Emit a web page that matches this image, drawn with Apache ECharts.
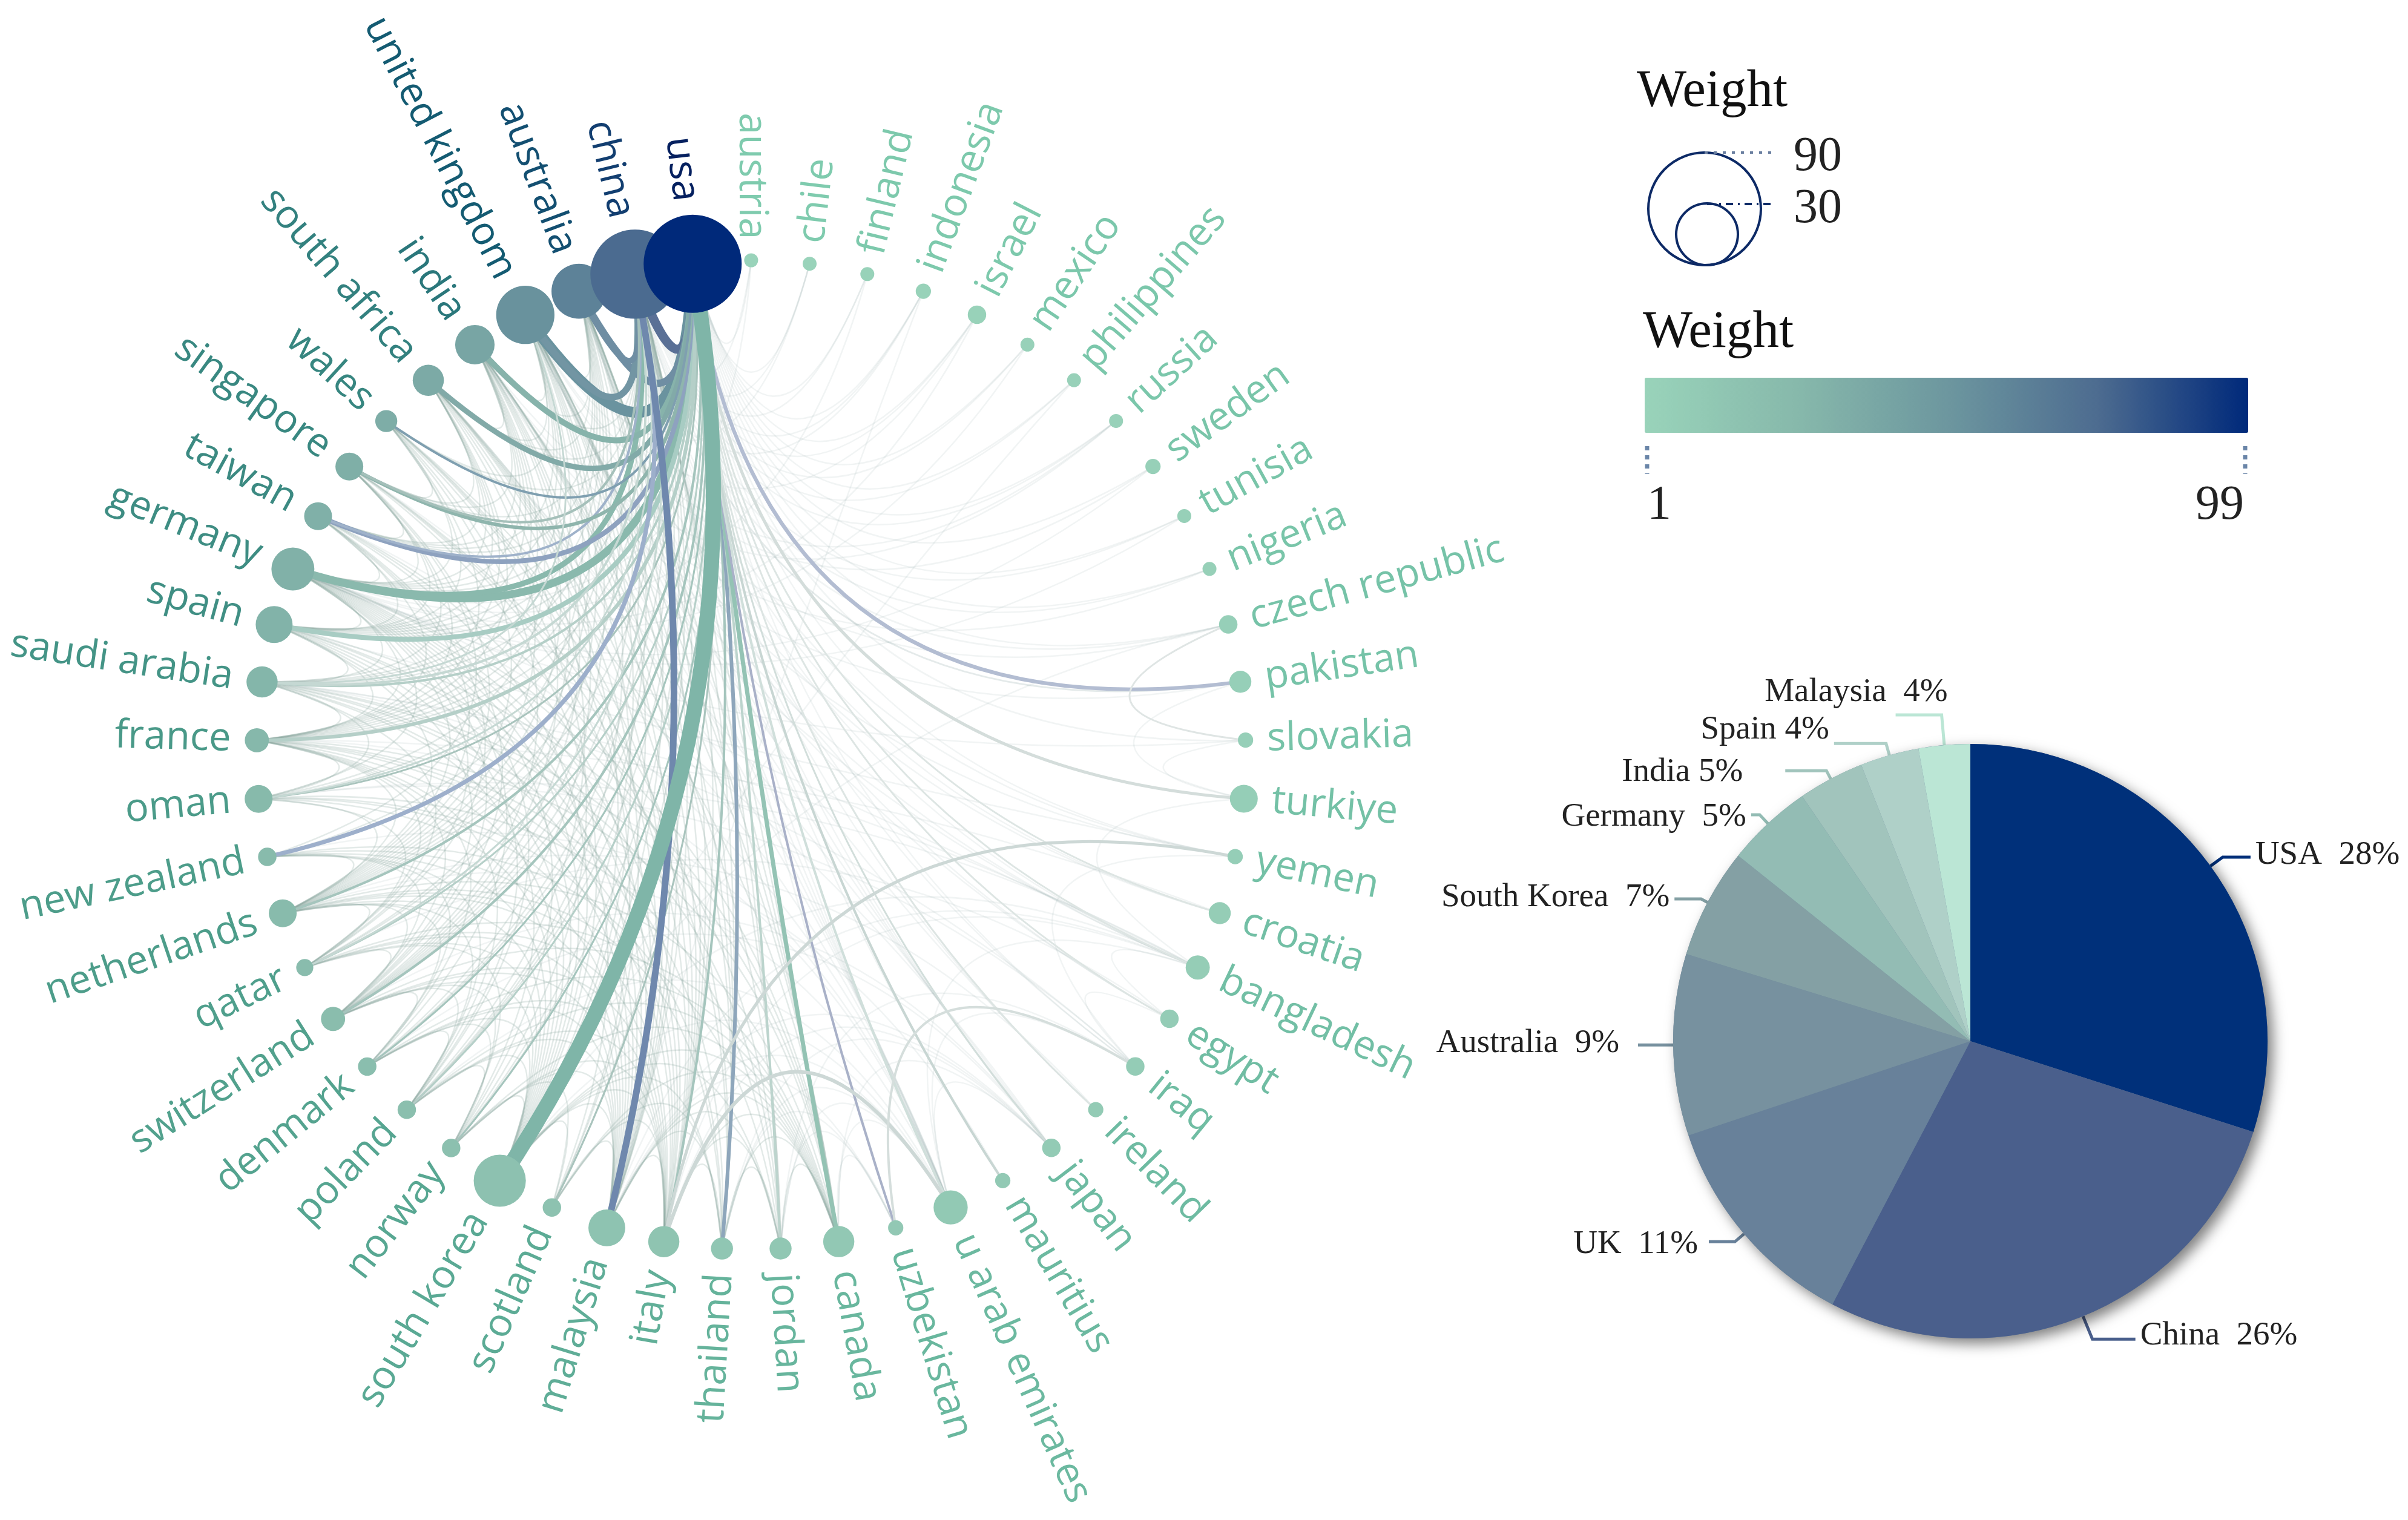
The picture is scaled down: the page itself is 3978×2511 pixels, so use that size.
<!DOCTYPE html>
<html lang="en">

<head>
  <meta charset="UTF-8">
  <title>Country collaboration</title>
  <style>
    html, body { margin: 0; background: #fff; }
  </style>
</head>

<body>
  <div id="main" style="width: 3978px;height:2511px;"></div>

  <script src="https://cdn.jsdelivr.net/npm/echarts@6/dist/echarts.min.js"></script>
  <script>
    // clockwise around the ring, turkiye is just below 3 o'clock
    let countries = ['turkiye', 'yemen', 'croatia', 'bangladesh', 'egypt', 'iraq', 'ireland', 'japan', 'mauritius',
      'u arab emirates', 'uzbekistan', 'canada', 'jordan', 'thailand', 'italy', 'malaysia', 'scotland',
      'south korea', 'norway', 'poland', 'denmark', 'switzerland', 'qatar', 'netherlands', 'new zealand', 'oman',
      'france', 'saudi arabia', 'spain', 'germany', 'taiwan', 'singapore', 'wales', 'south africa', 'india',
      'united kingdom', 'australia', 'china', 'usa', 'austria', 'chile', 'finland', 'indonesia', 'israel', 'mexico',
      'philippines', 'russia', 'sweden', 'tunisia', 'nigeria', 'czech republic', 'pakistan', 'slovakia'
    ];
    // node area
    let nodeCounts = [8, 2.4, 5, 6, 3.5, 3.5, 2.4, 3.5, 2.4,
      12, 2.4, 10, 5, 5, 10, 14, 3.5,
      28, 3.5, 3.5, 3.5, 6, 3, 8, 3.5, 8,
      6, 10, 14, 19, 8, 8, 5, 10, 16,
      35, 31, 82, 99, 2, 2, 2, 2.4, 3.5, 2,
      2, 2, 2.4, 2, 2, 3.5, 5, 2.4
    ];
    // node colour
    let nodeWeights = [6, 6, 7, 7, 8, 8, 9, 9, 10,
      10, 11, 11, 12, 13, 15, 16, 17,
      18, 19, 20, 21, 22, 23, 24, 24, 25,
      26, 28, 30, 31, 32, 33, 34, 36, 40,
      53, 62, 75, 99, 1, 1, 2, 2, 2, 3,
      3, 3, 4, 4, 4, 5, 5, 5
    ];

    // [source, target, width, colour, optional bow]
    let strongLinks = [
      ['usa', 'united kingdom', 18, '#6a939f'],
      ['usa', 'china', 15, '#5a7096'],
      ['usa', 'australia', 12, '#6f8ea3'],
      ['china', 'united kingdom', 11, '#7295a3'],
      ['china', 'australia', 10, '#6f8ea3'],
      ['usa', 'germany', 13, '#8ab9ad'],
      ['china', 'germany', 9, '#8ab9ad'],
      ['usa', 'india', 10, '#87b3ab'],
      ['usa', 'south africa', 9, '#82aaa8'],
      ['usa', 'spain', 8, '#a8ccc3'],
      ['usa', 'taiwan', 8, '#8ea2bf'],
      ['china', 'taiwan', 4, '#9fb2ca'],
      ['usa', 'singapore', 6, '#8fb5ad'],
      ['china', 'singapore', 4, '#a5c0ba'],
      ['usa', 'wales', 4, '#7f9fb0'],
      ['usa', 'saudi arabia', 4, '#b5cfc8'],
      ['china', 'saudi arabia', 4, '#c5d8d3'],
      ['united kingdom', 'saudi arabia', 3, '#c5d8d3'],
      ['usa', 'france', 6, '#b5cfc8'],
      ['usa', 'oman', 3, '#a9c4bd'],
      ['china', 'oman', 3, '#c5d8d3'],
      ['china', 'new zealand', 7, '#9dafcb'],
      ['usa', 'netherlands', 4, '#a5c5bd'],
      ['usa', 'qatar', 3, '#b5cfc8'],
      ['china', 'qatar', 3, '#c5d8d3'],
      ['usa', 'switzerland', 4, '#a5c5bd'],
      ['usa', 'denmark', 3, '#a5c5bd'],
      ['usa', 'poland', 3, '#b5cfc8'],
      ['usa', 'norway', 3, '#a5c5bd'],
      ['usa', 'scotland', 3, '#a9c4bd'],
      ['usa', 'italy', 4, '#a5c5bd'],
      ['usa', 'thailand', 6, '#8ea6bb'],
      ['usa', 'jordan', 4, '#bcd4cd'],
      ['usa', 'canada', 7, '#94c3b4'],
      ['usa', 'uzbekistan', 4, '#a9b1c8'],
      ['usa', 'u arab emirates', 4, '#d0dfdb'],
      ['usa', 'mauritius', 4, '#c8d6d3'],
      ['usa', 'japan', 3, '#d2dedb'],
      ['usa', 'ireland', 3, '#dde5e3'],
      ['usa', 'egypt', 3, '#dde5e3'],
      ['usa', 'bangladesh', 3, '#dde5e3'],
      ['usa', 'croatia', 3, '#dde5e3'],
      ['usa', 'turkiye', 5, '#d4dddb'],
      ['usa', 'pakistan', 6, '#b3bdd2'],
      ['yemen', 'italy', 5, '#cdd8d6'],
      ['italy', 'u arab emirates', 6, '#cdd8d6'],
      ['iraq', 'uzbekistan', 4, '#d5dedc'],
      ['czech republic', 'slovakia', 3, '#dfe5e4'],
      ['china', 'malaysia', 11, '#6f88ad', 0.8],
      ['usa', 'south korea', 25, '#7fb5a8']
    ];

    // [country index, partner indexes] thin background links
    let faintLinks = [
      [38, [39, 40, 41, 42, 43, 44, 45, 46, 47, 48, 49, 50, 52, 1, 5, 6, 8, 10, 16, 18, 19, 20, 21, 22, 23, 25, 27, 32]],
      [37, [40, 42, 43, 46, 50, 51, 1, 2, 3, 5, 6, 7, 8, 9, 10, 11, 12, 13, 14, 16, 17, 18, 19, 20, 21, 23, 26, 28, 32, 33, 34]],
      [36, [2, 4, 7, 9, 11, 12, 13, 14, 15, 17, 19, 20, 21, 23, 25, 26, 27, 28, 29, 30, 31, 33, 34, 35]],
      [35, [1, 3, 4, 6, 7, 9, 11, 13, 14, 15, 17, 18, 19, 21, 22, 23, 24, 26, 28, 29, 30, 32, 33, 34]],
      [34, [3, 9, 11, 13, 14, 15, 17, 20, 21, 22, 23, 25, 26, 27, 28, 29, 30, 31, 33]],
      [33, [7, 9, 12, 14, 15, 16, 17, 19, 21, 23, 26, 27, 28, 29, 30, 31]],
      [32, [11, 14, 15, 16, 18, 21, 23, 26, 28, 29, 31]],
      [31, [9, 13, 14, 15, 17, 23, 24, 26, 27, 28, 29, 30]],
      [30, [7, 13, 15, 17, 21, 22, 23, 26, 28, 29]],
      [29, [3, 9, 11, 12, 14, 15, 16, 17, 18, 19, 20, 21, 22, 23, 25, 26, 27, 28]],
      [28, [1, 11, 14, 15, 17, 19, 21, 23, 26, 27]],
      [27, [3, 5, 9, 11, 12, 14, 15, 17, 18, 22, 25, 26]],
      [26, [2, 9, 11, 13, 14, 15, 17, 19, 20, 21, 22, 23, 25]],
      [25, [3, 5, 12, 14, 15, 17, 22, 23]],
      [24, [8, 13, 15, 17, 19, 20, 21, 23]],
      [23, [6, 9, 11, 13, 14, 15, 17, 19, 20, 21, 22]],
      [22, [4, 12, 14, 15, 17, 18, 21]],
      [21, [7, 11, 14, 15, 17, 18, 19, 20]],
      [20, [7, 11, 14, 15, 17, 18, 19]],
      [19, [9, 11, 14, 15, 17, 18]],
      [18, [11, 14, 15, 16, 17]],
      [17, [3, 9, 11, 12, 13, 14, 15, 16]],
      [16, [11, 13, 14, 15]],
      [15, [3, 7, 9, 10, 11, 12, 13, 14]],
      [14, [3, 7, 11, 12, 13]],
      [13, [7, 9, 10, 11, 12]],
      [12, [5, 9, 10, 11]],
      [11, [7, 9, 10]],
      [9, [3, 5, 7]],
      [5, [1, 4]],
      [3, [0, 4]],
      [51, [0, 34, 37]],
      [50, [17, 35]],
      [49, [34, 37]],
      [48, [29, 37]],
      [47, [29, 35]],
      [46, [34, 35]],
      [45, [17, 37]],
      [44, [29, 37]],
      [43, [29, 35]],
      [42, [15, 36]],
      [41, [29, 37]],
      [40, [35]],
      [39, [29, 37]],
      [52, [0, 29]]
    ];

    let pieNames = ['USA', 'China', 'UK', 'Australia', 'South Korea', 'Germany', 'India', 'Spain', 'Malaysia'];
    let pieValues = [30, 27.8, 12.2, 9.9, 6, 4.7, 3.6, 3.2, 2.8]; // slice sizes as drawn
    let piePercents = [28, 26, 11, 9, 7, 5, 5, 4, 4]; // printed on the labels

    let pieGaps = ['  ', '  ', '  ', '  ', '  ', '  ', ' ', ' ', '  '];
    let pieColors = ['#00307a', '#4a5f8c', '#68819a', '#77919f', '#84a0a4', '#93bcb4', '#a1c4bc', '#afd0c8', '#bbe6d5'];
    // leader line [radial, horizontal] and label nudge [dx, dy]
    let pieLines = [[25, 46], [41, 71], [20, 43], [10, 48], [12, 44], [20, 14], [15, 68], [20, 86], [50, 76]];
    let pieNudges = [[0, -3], [0, -6], [-10, 4], [-23, -3], [0, -3], [0, 4], [-62, 2], [0, -23], [94, -38]];

    let weightColors = ['#99d3ba', '#87b9ab', '#6d979f', '#4d6c90', '#00297a'];
    let labelColors = ['#7fcbae', '#4a9a88', '#145f72', '#123f70', '#05205f'];
    let weightRange = [1, 99];

    let serifFont = '"Liberation Serif", serif';
    let labelFont = '65px "Open Sans", sans-serif';

    function shade(weight, stops) {
      return echarts.color.lerp((weight - weightRange[0]) / (weightRange[1] - weightRange[0]), stops);
    }

    // the right half of the ring reads much paler than the left
    function faintOpacity(a, b) {
      let paleEnd = (i) => i <= 10 || i >= 39;
      return paleEnd(a) || paleEnd(b) ? 0.11 : 0.22;
    }

    let linkRows = [];
    faintLinks.forEach((row) => {
      row[1].forEach((partner) => {
        linkRows.push({ from: row[0], to: partner, width: 2.5, color: '#7f9e98', opacity: faintOpacity(row[0], partner) });
      });
    });
    strongLinks.forEach((row) => {
      linkRows.push({
        from: countries.indexOf(row[0]),
        to: countries.indexOf(row[1]),
        width: row[2],
        color: row[3],
        opacity: 1,
        bow: row[4]
      });
    });

    // short links bow less than long ones, the control point slides towards the ring centre
    function renderLink(params, api) {
      let link = linkRows[params.dataIndex];
      let a = api.coord([1, link.from]);
      let b = api.coord([1, link.to]);
      let c = api.coord([0, 0]);
      let d = Math.abs(link.from - link.to);
      let pull = link.bow || 0.33 * Math.pow(Math.min(d, countries.length - d), 0.42);
      let mx = (a[0] + b[0]) / 2;
      let my = (a[1] + b[1]) / 2;
      return {
        type: 'bezierCurve',
        shape: {
          x1: a[0],
          y1: a[1],
          x2: b[0],
          y2: b[1],
          cpx1: mx + (c[0] - mx) * pull,
          cpy1: my + (c[1] - my) * pull
        },
        style: { fill: null, stroke: link.color, lineWidth: link.width, opacity: link.opacity },
        silent: true
      };
    }

    function renderNode(params, api) {
      let i = params.dataIndex;
      let p = api.coord([1, i]);
      let c = api.coord([0, 0]);
      let r = 8.14 * Math.sqrt(nodeCounts[i]);
      let rad = Math.atan2(p[1] - c[1], p[0] - c[0]);
      let isLeft = p[0] - c[0] < 1;
      let gap = r + 23;
      return {
        type: 'group',
        children: [{
          type: 'circle',
          shape: { cx: p[0], cy: p[1], r: r },
          style: { fill: shade(nodeWeights[i], weightColors) }
        }, {
          type: 'text',
          x: p[0] + Math.cos(rad) * gap,
          y: p[1] + Math.sin(rad) * gap,
          rotation: -(isLeft ? rad - Math.PI : rad),
          style: {
            text: countries[i],
            font: labelFont,
            fill: shade(nodeWeights[i], labelColors),
            textAlign: isLeft ? 'right' : 'left',
            textVerticalAlign: 'middle'
          }
        }]
      };
    }

    let pieData = pieNames.map((name, i) => ({
      name: name,
      value: pieValues[i],
      itemStyle: { color: pieColors[i] },
      labelLine: {
        length: pieLines[i][0],
        length2: pieLines[i][1],
        lineStyle: { color: pieColors[i], width: 5 }
      },
      label: { formatter: name + pieGaps[i] + piePercents[i] + '%' }
    }));

    let legendInk = '#0d2a66';

    let chart = echarts.init(document.getElementById('main'));
    chart.setOption({
      animation: false,
      backgroundColor: '#fff',
      polar: { center: [1241, 1247], radius: 817 },
      angleAxis: {
        type: 'category',
        data: countries,
        startAngle: -1.69,
        clockwise: true,
        show: false
      },
      radiusAxis: { type: 'value', min: 0, max: 1, show: false },
      visualMap: {
        type: 'continuous',
        seriesIndex: [],
        min: weightRange[0],
        max: weightRange[1],
        orient: 'horizontal',
        left: 2717,
        top: 624,
        padding: 0,
        itemWidth: 91,
        itemHeight: 997,
        calculable: false,
        showLabel: false,
        text: null,
        inRange: { color: weightColors }
      },
      graphic: [
        { type: 'text', style: { text: 'Weight', x: 2704, y: 152, font: '87px ' + serifFont, fill: '#111', textVerticalAlign: 'middle' } },
        { type: 'text', style: { text: 'Weight', x: 2714, y: 550, font: '87px ' + serifFont, fill: '#111', textVerticalAlign: 'middle' } },
        { type: 'text', style: { text: '90', x: 2963, y: 260, font: '80px ' + serifFont, fill: '#222', textVerticalAlign: 'middle' } },
        { type: 'text', style: { text: '30', x: 2963, y: 346, font: '80px ' + serifFont, fill: '#222', textVerticalAlign: 'middle' } },
        { type: 'text', style: { text: '1', x: 2741, y: 836, font: '80px ' + serifFont, fill: '#222', textAlign: 'center', textVerticalAlign: 'middle' } },
        { type: 'text', style: { text: '99', x: 3667, y: 836, font: '80px ' + serifFont, fill: '#222', textAlign: 'center', textVerticalAlign: 'middle' } },
        { type: 'circle', shape: { cx: 2816, cy: 345, r: 93 }, style: { fill: 'none', stroke: legendInk, lineWidth: 4 } },
        { type: 'circle', shape: { cx: 2820, cy: 387, r: 51 }, style: { fill: 'none', stroke: legendInk, lineWidth: 4 } },
        { type: 'line', shape: { x1: 2816, y1: 252, x2: 2929, y2: 252 }, style: { stroke: '#6a7fa0', lineWidth: 4, lineDash: [5, 10] } },
        { type: 'line', shape: { x1: 2820, y1: 337, x2: 2929, y2: 337 }, style: { stroke: legendInk, lineWidth: 4, lineDash: [12, 8, 3, 8] } },
        { type: 'line', shape: { x1: 2721, y1: 737, x2: 2721, y2: 783 }, style: { stroke: '#6a85a8', lineWidth: 7, lineDash: [7, 8] } },
        { type: 'line', shape: { x1: 3709, y1: 737, x2: 3709, y2: 783 }, style: { stroke: '#6a85a8', lineWidth: 7, lineDash: [7, 8] } }
      ],
      series: [{
        type: 'custom',
        coordinateSystem: 'polar',
        renderItem: renderLink,
        clip: false,
        silent: true,
        encode: { radius: 0, angle: 1 },
        data: linkRows.map((link) => [1, link.from, link.to])
      }, {
        type: 'custom',
        coordinateSystem: 'polar',
        renderItem: renderNode,
        clip: false,
        silent: true,
        encode: { radius: 0, angle: 1 },
        data: countries.map((name, i) => [1, i, nodeCounts[i], nodeWeights[i]])
      }, {
        // plain disc that carries the drop shadow, so slices do not shade each other
        type: 'pie',
        center: [3255, 1720],
        radius: 491,
        silent: true,
        label: { show: false },
        labelLine: { show: false },
        data: [{
          value: 1,
          itemStyle: {
            color: '#68819a',
            shadowBlur: 22,
            shadowOffsetX: 9,
            shadowOffsetY: 9,
            shadowColor: 'rgba(0,0,0,0.5)'
          }
        }]
      }, {
        type: 'pie',
        center: [3255, 1720],
        radius: 491,
        startAngle: 90,
        clockwise: true,
        silent: true,
        avoidLabelOverlap: false,
        data: pieData,
        label: {
          show: true,
          position: 'outside',
          fontFamily: serifFont,
          fontSize: 55,
          color: '#222',
          distanceToLabelLine: 8
        },
        labelLine: { show: true, smooth: false },
        labelLayout: (params) => ({
          dx: pieNudges[params.dataIndex][0],
          dy: pieNudges[params.dataIndex][1]
        })
      }]
    });
  </script>
</body>

</html>
